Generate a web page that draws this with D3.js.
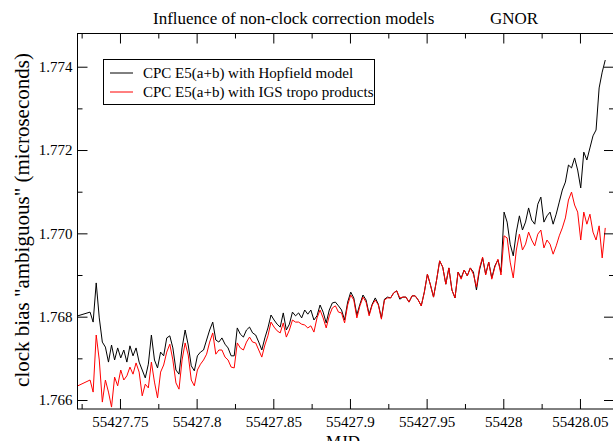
<!DOCTYPE html>
<html><head><meta charset="utf-8">
<script src="https://cdn.jsdelivr.net/npm/d3@7"></script>
<style>
body{margin:0;background:#fff}
svg{display:block}
text{font-family:"Liberation Serif","Times New Roman",serif;fill:#000}
</style>
</head><body>
<svg id="chart" width="613" height="441"></svg>
<script>
// ---- data ----
const epochStart = 55427.7225;      // MJD of first epoch
const epochInterval = 0.002;        // MJD between epochs (null = no solution)
const hopfield = [
1.76802,null,null,null,1.76811,1.76787,1.76881,1.76797,1.76739,1.76727,
1.76691,1.76732,1.76696,1.76725,1.76701,1.76720,1.76691,1.76730,1.76706,1.76725,
1.76691,1.76672,1.76653,1.76686,1.76756,1.76696,1.76677,1.76715,1.76706,1.76749,
1.76754,1.76725,1.76672,1.76662,1.76725,1.76768,1.76732,1.76682,1.76670,1.76706,
1.76715,1.76720,1.76744,1.76768,1.76787,1.76744,1.76739,1.76749,1.76734,1.76725,
1.76706,1.76706,1.76773,1.76758,1.76751,1.76768,1.76775,1.76761,1.76756,1.76739,
1.76720,1.76749,1.76773,1.76804,1.76792,1.76782,1.76775,1.76809,1.76768,1.76782,
1.76811,1.76802,1.76809,1.76797,1.76816,1.76806,1.76816,1.76792,1.76802,1.76828,
1.76811,1.76785,1.76816,1.76833,1.76835,1.76826,1.76816,1.76792,1.76835,1.76859,
1.76845,1.76804,1.76830,1.76852,1.76840,1.76806,1.76830,1.76845,1.76830,1.76797,
1.76842,1.76847,1.76845,1.76857,1.76862,1.76842,1.76847,1.76847,1.76835,1.76850,
1.76850,1.76840,1.76826,1.76859,1.76902,1.76876,1.76847,1.76888,1.76934,1.76919,
1.76878,1.76917,1.76864,1.76845,1.76907,1.76893,1.76912,1.76898,1.76917,1.76907,
1.76864,1.76912,1.76941,1.76902,1.76931,1.76893,1.76922,1.76936,1.76907,1.77051,
1.77027,1.76974,1.76946,1.77003,1.77042,1.77008,1.77027,1.77061,1.77032,1.77022,
1.77070,1.77087,1.77027,1.77042,1.77051,1.77022,1.77046,1.77075,1.77104,1.77123,
1.77164,1.77157,1.77181,1.77152,1.77109,1.77195,1.77176,1.77205,1.77234,1.77248,
1.77349,1.77387,1.77416
];
const igsTropo = [
1.76634,null,null,null,1.76648,1.76619,1.76756,1.76696,1.76595,1.76648,
1.76619,1.76583,1.76655,1.76634,1.76672,1.76648,1.76658,1.76679,1.76662,1.76689,
1.76667,1.76610,1.76638,1.76629,1.76691,1.76643,1.76605,1.76667,1.76684,1.76715,
1.76734,1.76696,1.76641,1.76626,1.76696,1.76737,1.76708,1.76648,1.76634,1.76672,
1.76686,1.76696,1.76710,1.76739,1.76761,1.76710,1.76720,1.76720,1.76703,1.76696,
1.76679,1.76677,1.76737,1.76725,1.76720,1.76739,1.76751,1.76739,1.76737,1.76720,
1.76703,1.76732,1.76754,1.76787,1.76775,1.76766,1.76761,1.76785,1.76751,1.76768,
1.76792,1.76787,1.76787,1.76782,1.76780,1.76773,1.76778,1.76763,1.76797,1.76816,
1.76797,1.76773,1.76802,1.76821,1.76826,1.76811,1.76809,1.76785,1.76828,1.76852,
1.76840,1.76797,1.76826,1.76847,1.76835,1.76802,1.76828,1.76840,1.76828,1.76794,
1.76840,1.76845,1.76845,1.76857,1.76862,1.76845,1.76847,1.76847,1.76835,1.76850,
1.76850,1.76840,1.76826,1.76859,1.76902,1.76876,1.76847,1.76888,1.76934,1.76919,
1.76878,1.76917,1.76864,1.76845,1.76907,1.76890,1.76912,1.76898,1.76917,1.76902,
1.76871,1.76917,1.76943,1.76900,1.76931,1.76890,1.76919,1.76938,1.76900,1.76994,
1.76989,1.76931,1.76893,1.76960,1.76998,1.76960,1.76974,1.77003,1.76984,1.76970,
1.76998,1.77008,1.76965,1.76984,1.76974,1.76950,1.76970,1.76994,1.77013,1.77037,
1.77080,1.77099,1.77068,1.77051,1.76984,1.77051,1.77022,1.77046,1.77003,1.76984,
1.77018,1.76941,1.77013
];
const seriesNames = ["CPC E5(a+b) with Hopfield model", "CPC E5(a+b) with IGS tropo products"];
const seriesColors = ["#000000", "#ff0000"];
const xDomain = [55427.7223, 55428.0722];
const yDomain = [1.765784, 1.774797];
const xMajorTicks = [55427.75, 55427.8, 55427.85, 55427.9, 55427.95, 55428, 55428.05];
const xMinorTicks = [55427.725, 55427.775, 55427.825, 55427.875, 55427.925, 55427.975, 55428.025];
const yMajorTicks = [1.766, 1.768, 1.770, 1.772, 1.774];
const yMinorTicks = [1.767, 1.769, 1.771, 1.773];
const titleText = "Influence of non-clock correction models";
const stationText = "GNOR";
const xLabel = "MJD";
const yLabel = 'clock bias "ambiguous" (microseconds)';

// ---- layout ----
const L = 77.5, T = 33.5, R = 614, B = 409;
const svg = d3.select("#chart");
const x = d3.scaleLinear().domain(xDomain).range([L, R]);
const y = d3.scaleLinear().domain(yDomain).range([B, T]);

function toPoints(arr){
  return arr.map((v,i)=> v==null ? null : {t: epochStart + i*epochInterval, v})
            .filter(d=>d);
}

svg.append("clipPath").attr("id","clip").append("rect")
  .attr("x",L).attr("y",T).attr("width",R-L).attr("height",B-T);

const line = d3.line().x(d=>x(d.t)).y(d=>y(d.v));
[hopfield, igsTropo].forEach((s,k)=>{
  svg.append("path").datum(toPoints(s))
    .attr("clip-path","url(#clip)")
    .attr("fill","none").attr("stroke",seriesColors[k]).attr("stroke-width",1)
    .attr("stroke-linejoin","round")
    .attr("d",line);
});

// frame
svg.append("rect").attr("x",L).attr("y",T).attr("width",R-L).attr("height",B-T)
  .attr("fill","none").attr("stroke","#000").attr("stroke-width",1);

const fmtX = d => String(+d.toFixed(2));
const fmtY = d3.format(".3f");
function styleAxis(g, fs){
  g.select(".domain").remove();
  g.attr("font-family",null).attr("font-size",null);
  g.selectAll("text").style("font-size",fs+"px").attr("fill","#000");
  g.selectAll("line").attr("stroke","#000");
}
// bottom
svg.append("g").attr("transform",`translate(0,${B})`)
  .call(d3.axisBottom(x).tickValues(xMajorTicks).tickSizeInner(-10).tickSizeOuter(0).tickPadding(7).tickFormat(fmtX))
  .call(g=>styleAxis(g,15));
svg.append("g").attr("transform",`translate(0,${B})`)
  .call(d3.axisBottom(x).tickValues(xMinorTicks).tickSizeInner(-5).tickSizeOuter(0).tickFormat(""))
  .call(g=>styleAxis(g,15));
// top
svg.append("g").attr("transform",`translate(0,${T})`)
  .call(d3.axisTop(x).tickValues(xMajorTicks).tickSizeInner(-10).tickSizeOuter(0).tickFormat(""))
  .call(g=>styleAxis(g,15));
svg.append("g").attr("transform",`translate(0,${T})`)
  .call(d3.axisTop(x).tickValues(xMinorTicks).tickSizeInner(-5).tickSizeOuter(0).tickFormat(""))
  .call(g=>styleAxis(g,15));
// left
svg.append("g").attr("transform",`translate(${L},0)`)
  .call(d3.axisLeft(y).tickValues(yMajorTicks).tickSizeInner(-10).tickSizeOuter(0).tickPadding(5).tickFormat(fmtY))
  .call(g=>styleAxis(g,15));
svg.append("g").attr("transform",`translate(${L},0)`)
  .call(d3.axisLeft(y).tickValues(yMinorTicks).tickSizeInner(-5).tickSizeOuter(0).tickFormat(""))
  .call(g=>styleAxis(g,15));
// right
svg.append("g").attr("transform",`translate(${R},0)`)
  .call(d3.axisRight(y).tickValues(yMajorTicks).tickSizeInner(-10).tickSizeOuter(0).tickFormat(""))
  .call(g=>styleAxis(g,15));
svg.append("g").attr("transform",`translate(${R},0)`)
  .call(d3.axisRight(y).tickValues(yMinorTicks).tickSizeInner(-5).tickSizeOuter(0).tickFormat(""))
  .call(g=>styleAxis(g,15));

// titles
svg.append("text").attr("x",153).attr("y",24).style("font-size","17px").text(titleText);
svg.append("text").attr("x",490).attr("y",24).style("font-size","17px").text(stationText);
svg.append("text").attr("x",343).attr("y",447).attr("text-anchor","middle")
  .style("font-size","17px").text(xLabel);
svg.append("text").attr("transform","translate(29,220) rotate(-90)")
  .attr("text-anchor","middle").style("font-size","21px").text(yLabel);

// legend
const lg = svg.append("g");
lg.append("rect").attr("x",103.5).attr("y",59.5).attr("width",271).attr("height",45)
  .attr("fill","#fff").attr("stroke","#000").attr("stroke-width",1);
seriesNames.forEach((n,k)=>{
  const yy = 73 + k*19;
  lg.append("line").attr("x1",110).attr("x2",133).attr("y1",yy).attr("y2",yy)
    .attr("stroke",seriesColors[k]).attr("stroke-width",1);
  lg.append("text").attr("x",143).attr("y",yy+5).style("font-size","15px").text(n);
});
</script>
</body></html>
